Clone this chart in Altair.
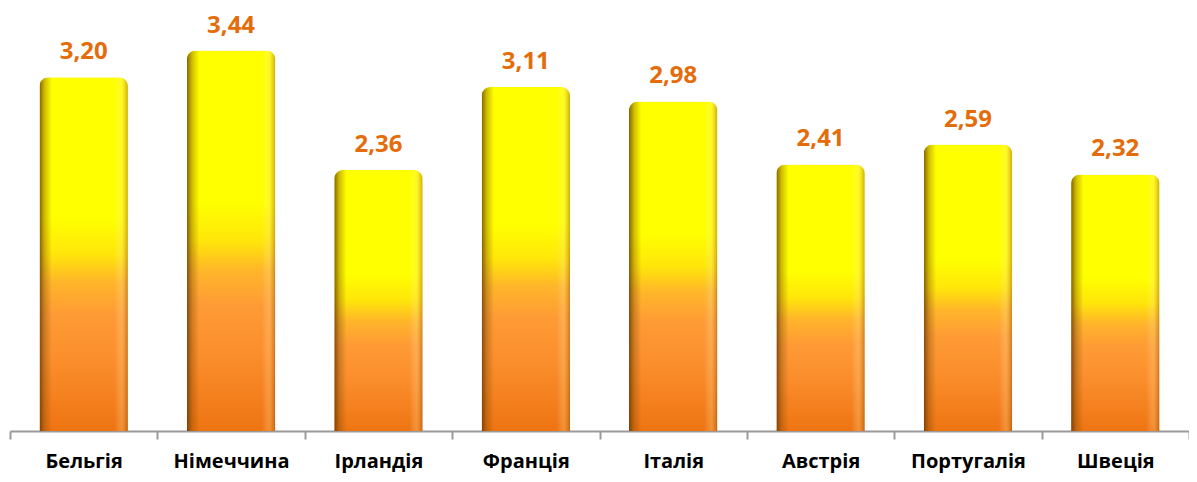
import altair as alt
import pandas as pd

countries = ["Бельгія", "Німеччина", "Ірландія", "Франція", "Італія", "Австрія", "Португалія", "Швеція"]
values = [3.20, 3.44, 2.36, 3.11, 2.98, 2.41, 2.59, 2.32]

df = pd.DataFrame({
    "country": countries,
    "value": values,
    "label": [f"{v:.2f}".replace(".", ",") for v in values],
})

x_bars = alt.X(
    "country:N", sort=countries,
    scale=alt.Scale(paddingInner=0.4, paddingOuter=0.2),
    axis=None,
)
x_axis = alt.X(
    "country:N", sort=countries,
    scale=alt.Scale(paddingInner=0, paddingOuter=0),
    axis=alt.Axis(
        title=None, labelAngle=0, labelFont="Open Sans", labelFontSize=20,
        labelFontWeight="bold", labelColor="#000000", labelPadding=12,
        domainColor="#9a9a9a", domainWidth=2, tickColor="#9a9a9a", tickWidth=2,
        tickSize=8, tickBand="extent", grid=False,
    ),
)
y_enc = alt.Y("value:Q", scale=alt.Scale(domain=[0, 3.78], nice=False), axis=None)

vgrad = alt.Gradient(
    gradient="linear", x1=0, x2=0, y1=1, y2=0,
    stops=[
        alt.GradientStop(color="#EE7412", offset=0.0),
        alt.GradientStop(color="#FB8E2C", offset=0.2),
        alt.GradientStop(color="#FE9B35", offset=0.33),
        alt.GradientStop(color="#FFB52A", offset=0.42),
        alt.GradientStop(color="#FFE60A", offset=0.5),
        alt.GradientStop(color="#FFFF00", offset=0.6),
        alt.GradientStop(color="#FFFF00", offset=1.0),
    ],
)
hgrad = alt.Gradient(
    gradient="linear", x1=0, x2=1, y1=0, y2=0,
    stops=[
        alt.GradientStop(color="rgba(90,45,0,0.75)", offset=0.0),
        alt.GradientStop(color="rgba(120,70,0,0.35)", offset=0.06),
        alt.GradientStop(color="rgba(120,70,0,0.0)", offset=0.14),
        alt.GradientStop(color="rgba(255,255,255,0.0)", offset=0.85),
        alt.GradientStop(color="rgba(255,230,150,0.25)", offset=0.93),
        alt.GradientStop(color="rgba(150,70,0,0.45)", offset=1.0),
    ],
)

bars = alt.Chart(df).mark_bar(
    color=vgrad, cornerRadiusTopLeft=9, cornerRadiusTopRight=9
).encode(x=x_bars, y=y_enc)
shade = alt.Chart(df).mark_bar(
    color=hgrad, cornerRadiusTopLeft=9, cornerRadiusTopRight=9
).encode(x=x_bars, y=y_enc)
labels = alt.Chart(df).mark_text(
    dy=-25, font="Open Sans", fontSize=24, fontWeight="bold", color="#E46C0A"
).encode(x=x_axis, y=y_enc, text="label:N")

chart = (
    alt.layer(bars, shade, labels)
    .resolve_scale(x="independent")
    .properties(
        width=1179, height=418,
        autosize=alt.AutoSizeParams(type="none"),
        padding={"left": 2, "top": 5, "right": 0, "bottom": 43},
        view=alt.ViewBackground(stroke="transparent", strokeWidth=0, strokeOpacity=0),
    )
    .configure_view(strokeWidth=0, stroke="transparent", strokeOpacity=0)
    .configure_axis(grid=False)
    .configure(background="white")
)

chart.save("out.html", embed_options={"renderer": "svg", "actions": False})
